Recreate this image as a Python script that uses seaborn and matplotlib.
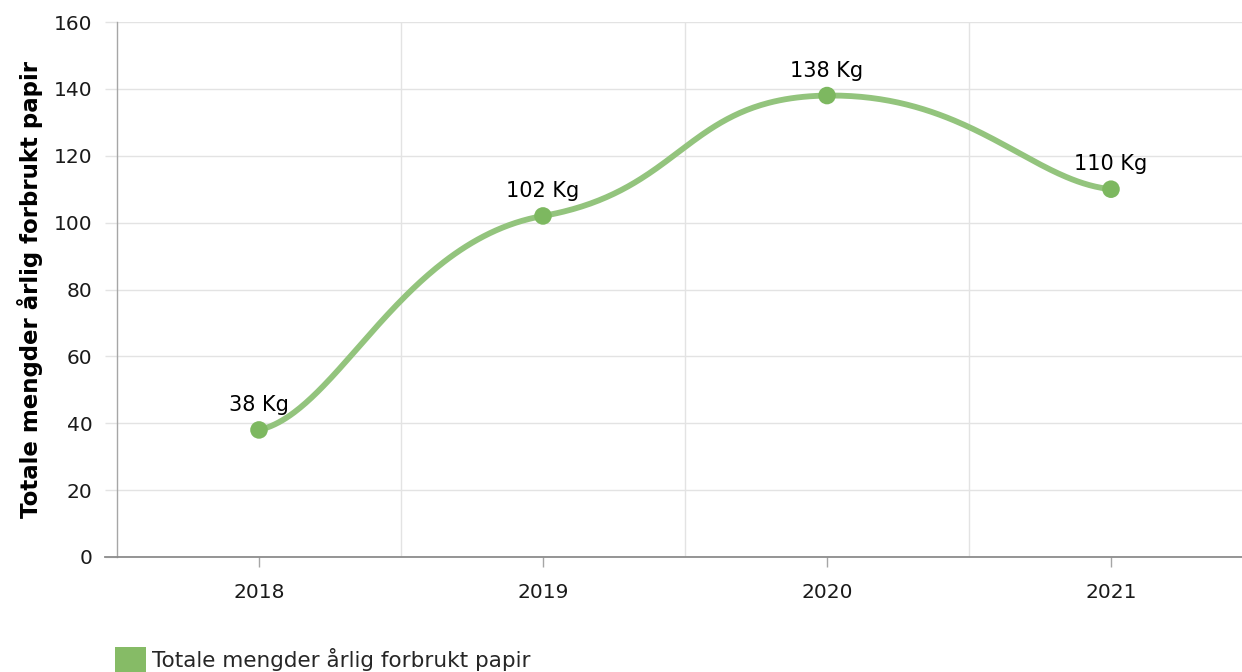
import numpy as np
import matplotlib
matplotlib.use("Agg")
import matplotlib.pyplot as plt
import seaborn as sns
import pandas as pd
from matplotlib.patches import Patch

years = ["2018", "2019", "2020", "2021"]
values = [38, 102, 138, 110]
label_texts = ["38 Kg", "102 Kg", "138 Kg", "110 Kg"]
y_label = "Totale mengder årlig forbrukt papir"
legend_label = "Totale mengder årlig forbrukt papir"
y_ticks = [0, 20, 40, 60, 80, 100, 120, 140, 160]

sns.set_theme(style="white")
plt.rcParams['font.family'] = ['DejaVu Sans']

LINE_C = "#93c47d"
MARK_C = "#7db860"
LEG_C = "#86bb66"

fig = plt.figure(figsize=(12.42, 6.72), dpi=100)
W, H = 1242, 672
left, right, top, bottom = 117, 1253, 22, 557
ax = fig.add_axes([left / W, 1 - bottom / H, (right - left) / W, (bottom - top) / H])

xs = np.arange(len(years), dtype=float)
ys = np.array(values, dtype=float)

# smooth curve: cubic Bezier segments with damped tangents
TANGENT_DAMP = 0.3
HANDLE_INNER = 0.5
HANDLE_END = 0.28

def smooth_curve(x, y):
    n = len(x)
    m = np.zeros(n)
    h = np.zeros(n)
    for i in range(n):
        if i == 0:
            m[i] = (y[1] - y[0]) / (x[1] - x[0]); h[i] = HANDLE_END
        elif i == n - 1:
            m[i] = (y[-1] - y[-2]) / (x[-1] - x[-2]); h[i] = HANDLE_END
        else:
            m[i] = (y[i + 1] - y[i - 1]) / (x[i + 1] - x[i - 1]); h[i] = HANDLE_INNER
    m *= TANGENT_DAMP
    t = np.linspace(0, 1, 120)[:, None]
    px, py = [], []
    for i in range(n - 1):
        d = x[i + 1] - x[i]
        p0 = np.array([x[i], y[i]])
        p1 = np.array([x[i] + h[i] * d, y[i] + m[i] * h[i] * d])
        p2 = np.array([x[i + 1] - h[i + 1] * d, y[i + 1] - m[i + 1] * h[i + 1] * d])
        p3 = np.array([x[i + 1], y[i + 1]])
        b = (1 - t) ** 3 * p0 + 3 * (1 - t) ** 2 * t * p1 + 3 * (1 - t) * t ** 2 * p2 + t ** 3 * p3
        px.extend(b[:, 0]); py.extend(b[:, 1])
    return np.array(px), np.array(py)

cx, cy = smooth_curve(xs, ys)
ax.plot(cx, cy, color=LINE_C, lw=4.2, solid_capstyle="round", zorder=3)

df = pd.DataFrame({"x": xs, "y": ys})
sns.scatterplot(data=df, x="x", y="y", color=MARK_C, s=160, edgecolor="none", ax=ax, zorder=4, legend=False)

for xi, yi, t in zip(xs, ys, label_texts):
    ax.annotate(t, (xi, yi), xytext=(0, 18), textcoords="offset points",
                ha="center", va="center", fontsize=15, color="#000000", zorder=5)

ax.set_xlim(-0.5, 3.5)
ax.set_ylim(0, 160)
ax.set_yticks(y_ticks)
ax.set_yticklabels([str(v) for v in y_ticks], fontsize=14.5, color="#1a1a1a")
ax.set_xticks(xs)
ax.set_xticklabels(years, fontsize=14.5, color="#1a1a1a")
ax.set_xlabel("")
ax.set_ylabel(y_label, fontsize=16.5, fontweight="bold", color="#000000", labelpad=8)

ax.set_xticks([0.5, 1.5, 2.5], minor=True)
ax.grid(False)
ax.yaxis.grid(True, color="#e3e3e3", lw=1)
ax.xaxis.grid(True, which="minor", color="#e3e3e3", lw=1)
ax.set_axisbelow(True)

for s in ["top", "right"]:
    ax.spines[s].set_visible(False)
ax.spines["left"].set_color("#a6a6a6"); ax.spines["left"].set_linewidth(1)
ax.spines["bottom"].set_color("#8c8c8c"); ax.spines["bottom"].set_linewidth(1.3)
ax.spines["bottom"].set_bounds(-0.5 - 12 / 284, 3.5)

ax.tick_params(axis="y", which="major", left=True, length=8.6, width=1, color="#e3e3e3", pad=9)
ax.tick_params(axis="x", which="major", bottom=True, length=7, width=1, color="#a6a6a6", pad=12)
ax.tick_params(axis="x", which="minor", bottom=False, length=0)

fig.legend(handles=[Patch(facecolor=LEG_C, edgecolor="none")], labels=[legend_label],
           loc="lower left", bbox_to_anchor=(106 / W, -9 / H), frameon=False,
           fontsize=15.5, handlelength=1.45, handleheight=1.45, handletextpad=0.3, borderaxespad=0)

fig.savefig("out.png", dpi=100)
